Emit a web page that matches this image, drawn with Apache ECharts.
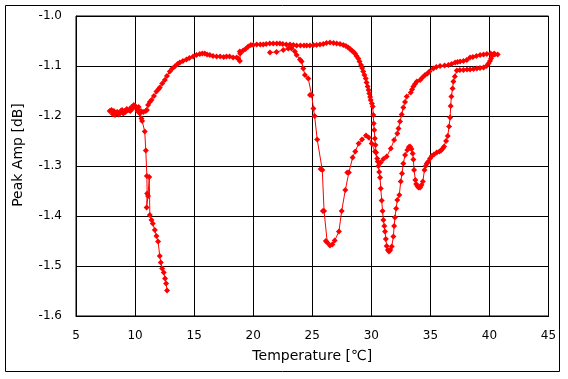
<!DOCTYPE html>
<html>
<head>
<meta charset="utf-8">
<script src="https://cdn.jsdelivr.net/npm/echarts@6/dist/echarts.min.js"></script>
<style>
html,body{margin:0;padding:0;background:#fff;}
#c{width:568px;height:379px;}
</style>
</head>
<body>
<div id="c"></div>
<script>
// Temperature [℃] values along the measured trace (in path order)
var temps = [
12.71,12.63,12.54,12.43,12.29,12.18,12.09,11.95,11.81,11.67,11.5,11.39,11.25,11.2,11.1,10.98,11.02,11.0,10.91,10.82,10.6,10.54,
10.4,10.2,10.3,10.0,9.8,9.6,9.4,9.2,9.0,8.8,8.6,8.4,8.2,8.0,7.85,8.1,8.3,8.5,8.7,8.9,9.1,9.3,9.5,9.7,9.9,10.1,10.3,10.5,10.7,10.9,11.0,
11.1,11.25,11.39,11.6,11.81,12.0,12.09,12.3,12.52,12.7,12.94,13.15,13.36,13.6,13.79,14.05,14.35,14.6,14.92,15.2,15.48,15.7,15.9,16.1,16.33,16.6,16.9,17.2,17.5,17.74,18.0,18.3,18.6,18.73,18.87,18.9,18.87,19.15,19.35,19.58,19.8,20.0,20.3,20.6,20.85,21.1,21.4,21.7,22.0,22.26,22.5,22.8,23.11,23.4,23.68,24.0,24.3,24.53,24.8,25.1,25.37,25.65,25.93,26.2,26.5,26.8,27.07,27.35,27.63,27.85,28.05,28.2,28.34,28.5,28.62,28.75,28.9,29.0,29.13,29.22,29.32,29.42,29.53,29.6,29.69,29.77,29.83,29.9,29.95,30.05,30.12,30.17,30.2,30.25,30.3,30.35,30.4,30.5,30.6,30.67,30.74,30.8,30.88,30.95,31.02,31.1,31.16,31.23,31.3,31.4,31.5,31.6,31.73,31.87,31.93,32.0,32.1,32.2,32.37,32.49,32.6,32.71,32.86,33.05,33.18,33.28,33.4,33.5,33.56,33.62,33.73,33.8,33.9,34.0,34.13,34.25,34.36,34.5,34.6,34.7,34.83,34.97,35.12,35.3,35.54,35.76,35.9,36.05,36.16,36.33,36.47,36.58,36.67,36.72,36.78,36.88,36.95,37.07,37.24,37.5,37.8,38.1,38.36,38.65,38.93,39.2,39.5,39.75,39.92,40.05,40.14,40.29,40.45,40.7,
40.4,40.1,39.78,39.5,39.21,38.9,38.6,38.36,38.08,37.8,37.52,37.3,37.1,36.8,36.53,36.2,35.82,35.5,35.25,34.92,34.75,34.55,34.33,34.13,33.85,33.7,33.56,33.45,33.34,33.0,32.85,32.71,32.57,32.43,32.3,32.2,31.93,31.65,31.3,31.02,30.8,30.54,30.31,30.03,29.78,29.55,29.21,28.93,28.64,28.42,28.1,27.97,27.8,27.49,27.26,26.9,26.7,26.5,26.27,26.15,26.0,25.9,25.85,25.71,25.42,25.2,25.1,24.95,24.81,24.66,24.38,24.24,24.1,23.96,23.68,23.53,23.25,22.97,22.55,21.98,21.42
];
// Peak Amp [dB] values matching temps
var amps = [
-1.549,-1.535,-1.525,-1.513,-1.505,-1.493,-1.48,-1.451,-1.44,-1.428,-1.415,-1.408,-1.398,-1.322,-1.36,-1.383,-1.355,-1.32,-1.269,-1.231,-1.21,-1.205,
-1.195,-1.19,-1.182,-1.18,-1.185,-1.19,-1.188,-1.192,-1.195,-1.19,-1.197,-1.193,-1.19,-1.188,-1.19,-1.196,-1.198,-1.192,-1.195,-1.188,-1.19,-1.186,-1.188,-1.182,-1.178,-1.183,-1.188,-1.19,-1.192,-1.19,-1.188,
-1.178,-1.172,-1.168,-1.16,-1.151,-1.146,-1.143,-1.135,-1.128,-1.12,-1.111,-1.105,-1.101,-1.096,-1.093,-1.09,-1.087,-1.084,-1.081,-1.078,-1.076,-1.075,-1.075,-1.077,-1.078,-1.08,-1.081,-1.081,-1.082,-1.081,-1.081,-1.083,-1.083,-1.085,-1.09,-1.075,-1.071,-1.069,-1.066,-1.061,-1.058,-1.058,-1.057,-1.057,-1.057,-1.056,-1.055,-1.055,-1.055,-1.055,-1.056,-1.057,-1.057,-1.058,-1.059,-1.059,-1.059,-1.059,-1.059,-1.058,-1.058,-1.057,-1.056,-1.054,-1.053,-1.054,-1.055,-1.056,-1.058,-1.06,-1.063,-1.066,-1.069,-1.072,-1.075,-1.08,-1.085,-1.091,-1.098,-1.104,-1.111,-1.118,-1.125,-1.133,-1.141,-1.148,-1.155,-1.162,-1.168,-1.175,-1.181,-1.198,-1.215,-1.228,-1.245,-1.258,-1.273,-1.285,-1.3,-1.312,-1.323,-1.345,-1.369,-1.39,-1.408,-1.42,-1.431,-1.446,-1.46,-1.468,-1.471,-1.468,-1.461,-1.441,-1.42,-1.403,-1.385,-1.368,-1.358,-1.331,-1.315,-1.295,-1.278,-1.268,-1.262,-1.261,-1.266,-1.275,-1.287,-1.308,-1.328,-1.336,-1.34,-1.343,-1.343,-1.338,-1.331,-1.308,-1.3,-1.295,-1.291,-1.285,-1.28,-1.277,-1.273,-1.271,-1.269,-1.265,-1.261,-1.25,-1.24,-1.221,-1.203,-1.18,-1.161,-1.145,-1.131,-1.121,-1.109,-1.108,-1.108,-1.107,-1.107,-1.106,-1.105,-1.104,-1.103,-1.1,-1.095,-1.09,-1.085,-1.078,-1.077,-1.077,
-1.075,-1.075,-1.076,-1.077,-1.078,-1.08,-1.082,-1.083,-1.088,-1.09,-1.091,-1.092,-1.093,-1.096,-1.098,-1.099,-1.1,-1.102,-1.105,-1.111,-1.115,-1.118,-1.123,-1.128,-1.131,-1.136,-1.141,-1.147,-1.153,-1.161,-1.172,-1.183,-1.197,-1.211,-1.225,-1.235,-1.248,-1.265,-1.281,-1.286,-1.293,-1.291,-1.271,-1.255,-1.243,-1.239,-1.247,-1.255,-1.271,-1.283,-1.313,-1.313,-1.348,-1.39,-1.431,-1.449,-1.457,-1.459,-1.453,-1.45,-1.39,-1.39,-1.308,-1.306,-1.247,-1.2,-1.185,-1.158,-1.158,-1.125,-1.118,-1.105,-1.091,-1.087,-1.078,-1.071,-1.065,-1.065,-1.068,-1.072,-1.073
];
var xTicks = {min: 5, max: 45, interval: 5};
var yTicks = {min: -1.6, max: -1.0, interval: 0.1};

var data = temps.map(function (t, i) { return [t, amps[i]]; });

var chart = echarts.init(document.getElementById('c'), null, {renderer: 'canvas'});
var font = 'DejaVu Sans';
chart.setOption({
  animation: false,
  backgroundColor: '#fff',
  graphic: [{
    type: 'rect',
    shape: {x: 5.5, y: 5.5, width: 554, height: 366},
    style: {fill: 'none', stroke: '#000', lineWidth: 1},
    silent: true
  }],
  grid: {left: 76, right: 19.5, top: 16, bottom: 63, show: true, borderColor: '#000', borderWidth: 1, backgroundColor: 'transparent'},
  xAxis: {
    type: 'value', min: xTicks.min, max: xTicks.max, interval: xTicks.interval,
    name: 'Temperature [℃]', nameLocation: 'middle', nameGap: 33,
    nameTextStyle: {fontFamily: font, fontSize: 14, color: '#000'},
    axisLine: {show: true, lineStyle: {color: '#000', width: 1}},
    axisTick: {show: false},
    axisLabel: {fontFamily: font, fontSize: 12, color: '#000', margin: 14},
    splitLine: {show: true, lineStyle: {color: '#000', width: 1}}
  },
  yAxis: {
    type: 'value', min: yTicks.min, max: yTicks.max, interval: yTicks.interval,
    name: 'Peak Amp [dB]', nameLocation: 'middle', nameGap: 51,
    nameTextStyle: {fontFamily: font, fontSize: 14, color: '#000', padding: [0, 0, 0, 22]},
    axisLine: {show: true, lineStyle: {color: '#000', width: 1}},
    axisTick: {show: false},
    axisLabel: {fontFamily: font, fontSize: 12, color: '#000', margin: 14, formatter: function (v) { return v.toFixed(1); }},
    splitLine: {show: true, lineStyle: {color: '#000', width: 1}}
  },
  series: [{
    type: 'line',
    data: data,
    symbol: 'diamond',
    symbolSize: 6,
    showAllSymbol: true,
    lineStyle: {color: '#ff0000', width: 1},
    itemStyle: {color: '#ff0000'},
    clip: true
  }]
});
</script>
</body>
</html>
